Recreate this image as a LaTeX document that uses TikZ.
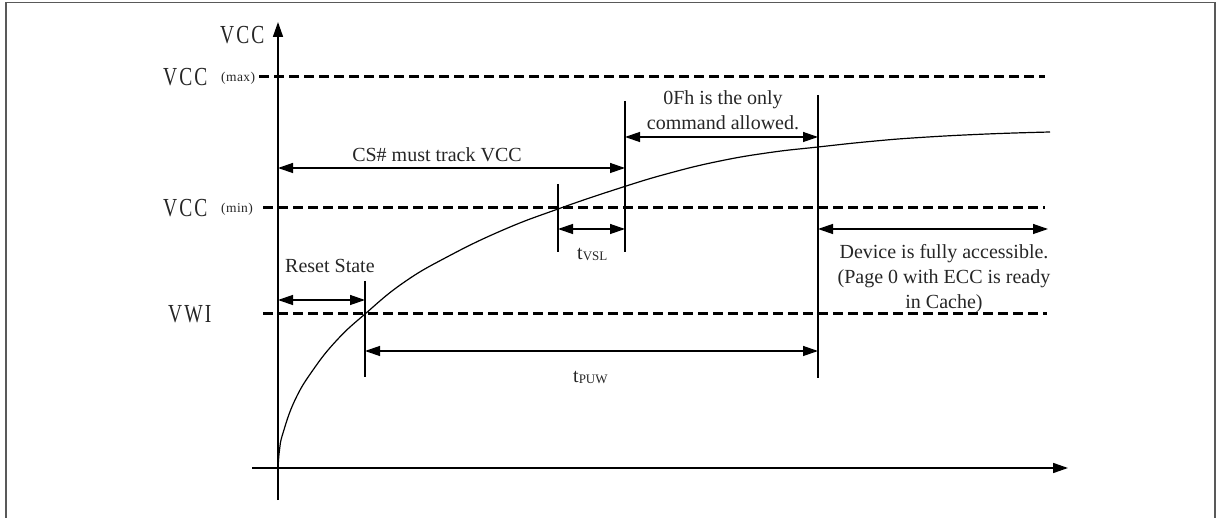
\documentclass[tikz,border=0pt]{standalone}
\usepackage{fontspec}
\setmainfont{Liberation Serif}
\newfontfamily\condf[FakeStretch=0.75,LetterSpace=8]{Liberation Serif}
\newfontfamily\subf[LetterSpace=3]{Liberation Serif}
\usetikzlibrary{arrows.meta}
\begin{document}
\begin{tikzpicture}[x=1pt,y=-1pt,
  border/.style={draw=black!65, line width=1.5pt},
  axisline/.style={line width=1.6pt, -{Triangle[length=15pt,width=10pt]}},
  dashlevel/.style={line width=3pt, dash pattern=on 10pt off 5pt},
  vmark/.style={line width=1.2pt},
  dimarrow/.style={line width=1.3pt, {Triangle[length=15pt,width=10pt]}-{Triangle[length=15pt,width=10pt]}},
  bigtxt/.style={font=\condf\fontsize{26}{30}\selectfont, inner sep=0pt, anchor=base west, text=black!85},
  subtxt/.style={font=\subf\fontsize{13.5}{16}\selectfont, inner sep=0pt, anchor=base west, text=black!85},
  lbl/.style={font=\fontsize{20}{25}\selectfont, inner sep=0pt, align=center, text=black!85},
]
\useasboundingbox (0,0) rectangle (1224,518);
% frame
\draw[border] (6,520) -- (6,2.5) -- (1215,2.5) -- (1215,520);

% axes
\coordinate (yb) at (278,500);
\coordinate (yt) at (278,22);
\coordinate (xl) at (252,468);
\coordinate (xr) at (1068,468);
\draw[axisline] (yb) -- (yt);
\draw[axisline] (xl) -- (xr);

% level labels
\node[bigtxt] (vccax) at (220,44) {VCC};
\node[bigtxt] (vccmax) at (163,86) {VCC};
\node[subtxt] (maxs) at (221,82) {(max)};
\node[bigtxt] (vccmin) at (163,217) {VCC};
\node[subtxt] (mins) at (221,213) {(min)};
\node[bigtxt] (vwi) at (168,323) {VWI};

% dashed levels
\coordinate (maxA) at (259,77);  \coordinate (maxB) at (1045,77);
\coordinate (minA) at (263,208); \coordinate (minB) at (1045,208);
\coordinate (vwiA) at (263,314); \coordinate (vwiB) at (1047,314);
\draw[dashlevel] (maxA) -- (maxB);
\draw[dashlevel] (minA) -- (minB);
\draw[dashlevel] (vwiA) -- (vwiB);

% curve
\draw[line width=1.2pt] plot[smooth, tension=0.75] coordinates {(278,469) (279.5,450) (283,433) (295,400) (313,370) (337,340) (365,314) (403,283) (447,257) (503,230) (558,209) (620,188) (670,173) (720,161) (770,152.5) (818,147) (870,141.5) (920,137.5) (987,134) (1050,132)};

% vertical markers
\coordinate (m1t) at (365,281); \coordinate (m1b) at (365,377);
\coordinate (m2t) at (558,184); \coordinate (m2b) at (558,252);
\coordinate (m3t) at (625,101); \coordinate (m3b) at (625,252);
\coordinate (m4t) at (818,95);  \coordinate (m4b) at (818,378);
\draw[vmark] (m1t) -- (m1b);
\draw[vmark] (m2t) -- (m2b);
\draw[vmark] (m3t) -- (m3b);
\draw[vmark] (m4t) -- (m4b);

% dimension arrows
\coordinate (csA) at (278,168);  \coordinate (csB) at (625,168);
\coordinate (ofA) at (625,137);  \coordinate (ofB) at (818,137);
\coordinate (vsA) at (558,229);  \coordinate (vsB) at (625,229);
\coordinate (dvA) at (818,229);  \coordinate (dvB) at (1048,229);
\coordinate (rsA) at (278,300);  \coordinate (rsB) at (365,300);
\coordinate (puA) at (365,351);  \coordinate (puB) at (818,351);
\draw[dimarrow] (csA) -- (csB);
\draw[dimarrow] (ofA) -- (ofB);
\draw[dimarrow] (vsA) -- (vsB);
\draw[dimarrow] (dvA) -- (dvB);
\draw[dimarrow] (rsA) -- (rsB);
\draw[dimarrow] (puA) -- (puB);

% labels
\node[lbl, anchor=base] (cs) at (437,162) {CS\# must track VCC};
\node[lbl] (of) at (723,110) {0Fh is the only\\command allowed.};
\node[lbl] (dv) at (944,279) {Device is fully accessible.\\(Page 0 with ECC is ready\\in Cache)};
\node[lbl, anchor=base west] (rs) at (285,273) {Reset State};
\node[lbl, anchor=base west] (tvsl) at (577,260) {t{\fontsize{13}{15}\selectfont\raisebox{-1pt}{VSL}}};
\node[lbl, anchor=base west] (tpuw) at (573,383) {t{\fontsize{13}{15}\selectfont\raisebox{-1pt}{PUW}}};
\end{tikzpicture}
\end{document}
